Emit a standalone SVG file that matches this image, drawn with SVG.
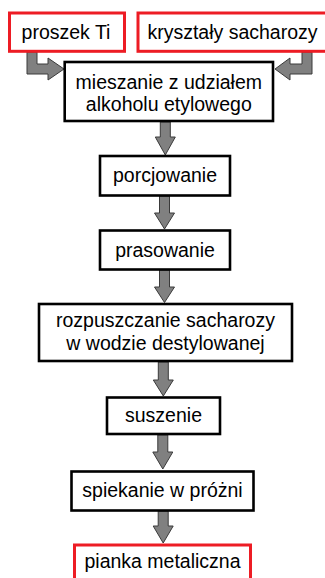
<svg xmlns="http://www.w3.org/2000/svg" width="325" height="578" viewBox="0 0 325 578">
<style>
.red{fill:#fff;stroke:#ed1c24;stroke-width:3}
.blk{fill:#fff;stroke:#000;stroke-width:2.6}
.t{font-family:"Liberation Sans",Arial,sans-serif;font-size:19.5px;fill:#000;text-anchor:middle}
.arr{fill:#808080;stroke:#3a3a3a;stroke-width:1;stroke-linejoin:miter}
</style>
<rect width="325" height="578" fill="#fff"/>
<g id="connectors">
<polygon class="arr" points="27,52 37,52 37,64 48,64 48,58 64,69 48,80 48,74 27,74"/>
<polygon class="arr" points="312,52 302,52 302,64 290,64 290,58 275,69 290,80 290,74 312,74"/>
<polygon class="arr" points="160.3,122 170.3,122 170.3,137 175.3,137 165.3,155 155.3,137 160.3,137"/>
<polygon class="arr" points="159.5,196 169.5,196 169.5,213 174.5,213 164.5,229 154.5,213 159.5,213"/>
<polygon class="arr" points="159.5,270 169.5,270 169.5,287 174.5,287 164.5,302.5 154.5,287 159.5,287"/>
<polygon class="arr" points="158.3,362 168.3,362 168.3,380 173.3,380 163.3,396 153.3,380 158.3,380"/>
<polygon class="arr" points="157.8,435 167.8,435 167.8,452 172.8,452 162.8,469 152.8,452 157.8,452"/>
<polygon class="arr" points="158.2,511 168.2,511 168.2,526 173.2,526 163.2,543 153.2,526 158.2,526"/>
</g>
<g id="proszek">
<rect class="red" x="9.5" y="13" width="115" height="38.3"/>
<text class="t" x="66" y="39">proszek Ti</text>
</g>
<g id="krysztaly">
<rect class="red" x="138" y="13" width="200" height="38.3"/>
<text class="t" x="232.5" y="39">kryształy sacharozy</text>
</g>
<g id="mieszanie">
<rect class="blk" x="64.7" y="62" width="208.3" height="59"/>
<text class="t" x="168.8" y="89">mieszanie z udziałem</text>
<text class="t" x="168.8" y="110.5">alkoholu etylowego</text>
</g>
<g id="porcjowanie">
<rect class="blk" x="100" y="156" width="130" height="39.5"/>
<text class="t" x="165" y="182">porcjowanie</text>
</g>
<g id="prasowanie">
<rect class="blk" x="100" y="230.5" width="130" height="39"/>
<text class="t" x="165" y="256.5">prasowanie</text>
</g>
<g id="rozpuszczanie">
<rect class="blk" x="39" y="304" width="253" height="57"/>
<text class="t" x="165.5" y="327">rozpuszczanie sacharozy</text>
<text class="t" x="165.5" y="349.5">w wodzie destylowanej</text>
</g>
<g id="suszenie">
<rect class="blk" x="107" y="397.5" width="113" height="36.5"/>
<text class="t" x="163.5" y="421.5">suszenie</text>
</g>
<g id="spiekanie">
<rect class="blk" x="71.5" y="471.5" width="182" height="39"/>
<text class="t" x="162.5" y="497">spiekanie w próżni</text>
</g>
<g id="pianka">
<rect class="red" x="74.5" y="545" width="176" height="45"/>
<text class="t" x="162.5" y="568.3">pianka metaliczna</text>
</g>
</svg>
